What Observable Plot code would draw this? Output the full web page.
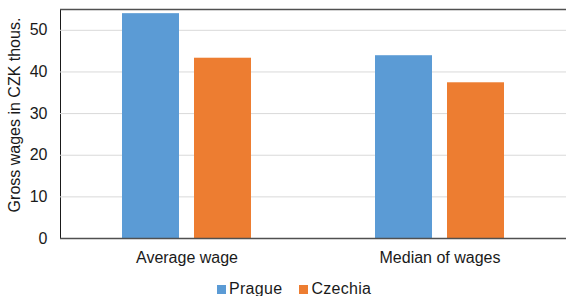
<!DOCTYPE html>
<html><head><meta charset="utf-8">
<script src="https://cdn.jsdelivr.net/npm/d3@7"></script>
<script src="https://cdn.jsdelivr.net/npm/@observablehq/plot@0.6"></script>
<style>
body{margin:0;background:#fff;font-family:"Liberation Sans",Arial,sans-serif;}
#legend{position:relative;height:16px;font-size:16px;line-height:16px;color:#1a1a1a;letter-spacing:0.3px;}
#legend .items{position:absolute;left:217px;top:1px;display:flex;gap:17px;}
#legend .item{display:flex;align-items:center;gap:3px;}
#legend .sw{width:9px;height:9px;display:inline-block;}
</style></head>
<body><div id="chart"></div><div id="legend"><div class="items"></div></div>
<script>
const categories = ["Average wage", "Median of wages"];
const seriesNames = ["Prague", "Czechia"];
const pragueValues = [54.0, 43.9];
const czechiaValues = [43.3, 37.4];
const colors = ["#5B9BD5", "#ED7D31"];
const yTicks = [0, 10, 20, 30, 40, 50];
const yLabel = "Gross wages in CZK thous.";

const data = categories.flatMap((c, i) => [
  {category: c, series: seriesNames[0], value: pragueValues[i]},
  {category: c, series: seriesNames[1], value: czechiaValues[i]}
]);

const chart = Plot.plot({
  width: 566, height: 280,
  marginLeft: 60, marginRight: 0, marginTop: 9, marginBottom: 42,
  style: {fontFamily: '"Liberation Sans", Arial, sans-serif', fontSize: "16px", color: "#1a1a1a", background: "#fff"},
  fx: {domain: categories, padding: 0, label: null, tickSize: 0, tickPadding: 13},
  x: {domain: seriesNames, paddingInner: 0.206, paddingOuter: 0.853, axis: null},
  y: {domain: [0, 55], ticks: yTicks, tickSize: 0, tickPadding: 13, label: null, line: true},
  color: {domain: seriesNames, range: colors},
  marks: [
    Plot.gridY(yTicks.filter(t => t > 0), {stroke: "#d9d9d9", strokeOpacity: 1}),
    Plot.barY(data, {fx: "category", x: "series", y: "value", fill: "series"}),
    Plot.ruleY([0], {stroke: "#505050", strokeWidth: 1.5}),
    Plot.ruleY([55], {stroke: "#505050", strokeWidth: 1.5}),
    Plot.text([yLabel], {fx: () => categories[0], text: d => d, frameAnchor: "left", rotate: -90, lineAnchor: "top", textAnchor: "middle", dx: -52, dy: -9, fontSize: 16, fill: "#1a1a1a"})
  ]
});
document.getElementById("chart").appendChild(chart);

const items = d3.select("#legend .items").selectAll(".item").data(seriesNames).join("div").attr("class", "item");
items.append("span").attr("class", "sw").style("background", (d, i) => colors[i]);
items.append("span").text(d => d);
</script>
</body></html>
